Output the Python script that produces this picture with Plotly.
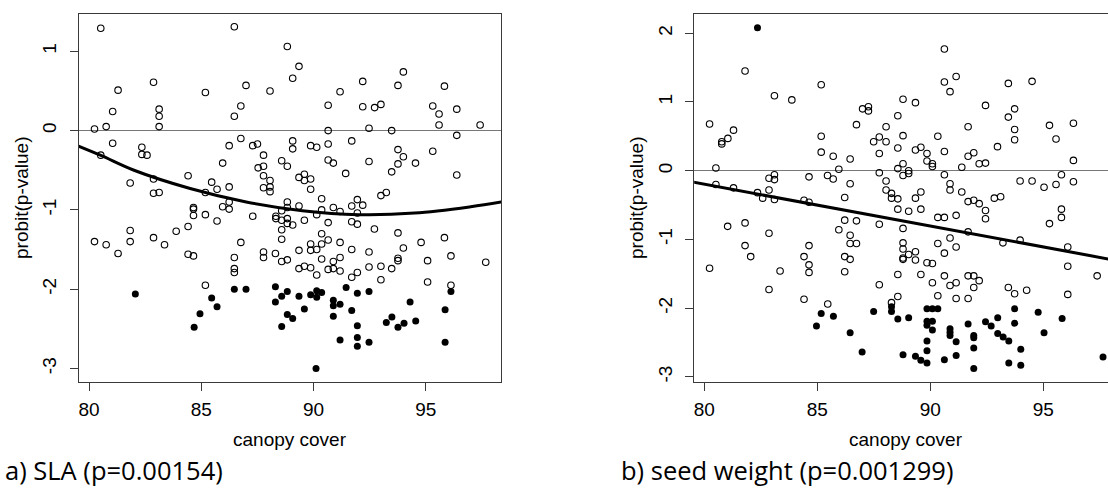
import plotly.graph_objects as go

# ---------------- Panel a) SLA ----------------
sla_open_x = [80.52, 86.47, 82.87, 81.29, 85.18, 86.99, 86.76, 86.47, 81.05, 83.12, 83.12, 83.12, 80.76, 80.24,
              81.05, 80.52, 82.35, 82.35, 82.58, 82.87, 82.87, 83.12, 81.83, 84.41, 85.18, 85.46, 85.70, 85.95,
              86.24, 86.24, 86.76,
              88.83, 89.35, 89.07, 88.06, 91.18, 92.19, 90.65, 92.19, 92.72, 93.00, 93.76, 94.00, 95.83, 95.31,
              95.59, 95.59, 96.38, 97.42, 92.47, 90.65, 93.48, 96.38, 89.07, 89.07, 89.87, 90.14, 90.65, 91.70,
              87.29, 87.50, 87.77, 88.58, 88.83, 87.53, 87.77, 87.77, 88.06, 88.06, 88.06, 87.77, 90.65, 90.88,
              92.47, 91.43, 89.35, 89.59, 89.59, 89.87, 89.87, 93.76, 94.00, 93.76, 93.48, 94.54, 95.31, 96.38,
              93.00, 93.24, 90.36,
              80.24, 80.76, 81.29, 81.83, 81.83, 82.87, 83.36, 83.88, 84.41, 84.41, 84.65, 84.65, 84.65, 84.65,
              85.18, 85.70, 85.95, 86.24, 86.24, 86.47, 86.47, 86.47, 86.76, 85.18,
              87.29, 88.32, 88.32, 88.58, 88.83, 88.83, 88.83, 88.58, 89.35, 89.07, 88.83, 88.58, 88.58, 89.59,
              90.14, 90.36, 90.65, 90.88, 91.18, 91.70, 91.95, 92.19, 91.95, 91.70, 91.95, 92.71, 93.76, 94.79,
              95.83, 90.36, 90.65, 89.87, 89.87, 90.14, 89.35, 88.30, 87.77, 87.77, 88.58, 88.83, 90.36, 91.18,
              91.70, 92.47, 94.00, 93.76, 93.76, 90.36, 90.88, 91.18, 89.35, 89.59, 89.87, 90.14, 90.65, 90.88,
              91.18, 91.95, 91.70, 92.47, 93.00, 93.48, 93.00, 95.08, 95.08, 96.12, 96.12, 97.67]
sla_open_y = [1.29, 1.31, 0.61, 0.51, 0.48, 0.57, 0.31, 0.18, 0.24, 0.27, 0.18, 0.05, 0.05, 0.02,
              -0.16, -0.31, -0.21, -0.30, -0.31, -0.61, -0.79, -0.78, -0.66, -0.57, -0.78, -0.65, -0.74, -0.41,
              -0.19, -0.71, -0.10,
              1.06, 0.81, 0.66, 0.50, 0.49, 0.62, 0.32, 0.30, 0.29, 0.33, 0.57, 0.74, 0.56, 0.31,
              0.21, 0.07, 0.27, 0.07, 0.03, 0.00, 0.00, -0.06, -0.13, -0.23, -0.19, -0.21, -0.17, -0.13,
              -0.19, -0.17, -0.31, -0.38, -0.45, -0.47, -0.45, -0.57, -0.63, -0.71, -0.77, -0.72, -0.37, -0.41,
              -0.39, -0.54, -0.59, -0.55, -0.63, -0.61, -0.74, -0.24, -0.33, -0.42, -0.52, -0.41, -0.26, -0.56,
              -0.82, -0.78, -0.86,
              -1.40, -1.44, -1.55, -1.26, -1.40, -1.35, -1.44, -1.27, -1.21, -1.56, -1.58, -0.97, -0.99, -1.07,
              -1.06, -1.14, -0.96, -0.99, -0.90, -1.60, -1.74, -1.79, -1.41, -1.95,
              -1.08, -1.08, -1.11, -1.13, -1.11, -0.90, -0.97, -1.01, -0.95, -1.19, -1.17, -1.25, -1.37, -1.13,
              -1.06, -1.00, -1.16, -0.97, -1.02, -0.95, -0.87, -0.94, -1.04, -1.15, -1.18, -1.24, -1.29, -1.41,
              -1.35, -1.30, -1.38, -1.43, -1.51, -1.50, -1.51, -1.55, -1.53, -1.60, -1.65, -1.63, -1.43, -1.41,
              -1.50, -1.53, -1.48, -1.61, -1.64, -1.62, -1.65, -1.60, -1.74, -1.71, -1.73, -1.82, -1.75, -1.74,
              -1.77, -1.79, -1.85, -1.72, -1.71, -1.74, -1.88, -1.64, -1.91, -1.58, -1.95, -1.66]
sla_sig_x = [82.06, 84.68, 84.94, 85.46, 85.70, 86.47, 86.99,
             88.30, 88.30, 88.58, 88.83, 89.35, 89.87, 90.14, 90.36, 90.14, 89.59, 88.83, 89.07, 88.58,
             90.88, 90.88, 91.18, 90.88, 91.45, 91.95, 92.47, 91.70, 91.95, 91.18, 91.95, 91.95, 92.47,
             90.11, 93.24, 93.49, 93.76, 94.03, 94.30, 94.55, 95.86, 96.12, 95.86]
sla_sig_y = [-2.06, -2.48, -2.31, -2.11, -2.22, -2.00, -2.00,
             -1.97, -2.16, -2.09, -2.03, -2.09, -2.07, -2.02, -2.04, -2.10, -2.25, -2.32, -2.37, -2.47,
             -2.14, -2.21, -2.19, -2.34, -1.98, -2.05, -2.03, -2.27, -2.46, -2.64, -2.61, -2.72, -2.67,
             -3.00, -2.42, -2.35, -2.48, -2.43, -2.16, -2.40, -2.26, -2.03, -2.67]
sla_fit_x = [79.3, 80.5, 82.0, 84.5, 87.0, 89.5, 92.0, 94.5, 97.0, 98.6]
sla_fit_y = [-0.17, -0.31, -0.50, -0.73, -0.90, -1.01, -1.06, -1.04, -0.96, -0.89]

# ---------------- Panel b) seed weight ----------------
seed_open_x = [81.80, 80.23, 80.51, 80.77, 80.77, 81.04, 81.29, 80.51, 81.29, 82.35, 82.58, 82.86, 82.86, 83.10,
               83.10, 83.10, 83.10, 83.87, 84.63, 84.41, 84.63, 85.17, 85.17, 85.17, 85.70, 85.95, 85.45, 85.70,
               90.62, 90.62, 91.14, 90.87, 93.45, 94.50, 88.79, 89.34, 87.00, 87.26, 87.26, 88.56, 86.73, 88.04,
               92.44, 93.45, 93.73, 93.73, 93.73, 91.67, 90.33, 88.79, 87.49, 87.74, 88.04, 87.74, 88.56, 89.34,
               89.58, 89.85, 89.85, 90.09, 90.09, 90.62, 91.67, 91.92, 91.39, 92.16, 92.44, 92.97, 95.27, 95.56,
               96.33, 96.33, 95.80, 96.33, 95.56, 95.03, 94.50, 93.97, 86.45, 86.45, 86.21, 88.56, 88.79, 89.04,
               89.04, 88.79, 87.74, 88.04, 88.04, 88.28, 88.28, 88.56, 89.34, 89.58, 90.62, 90.87, 90.87, 91.39,
               92.83, 93.11,
               80.23, 81.03, 81.80, 81.80, 82.05, 82.86, 83.35, 82.86, 84.41, 84.63, 84.63, 84.63, 84.41, 85.46,
               85.95,
               86.21, 86.73, 86.45, 86.45, 86.73, 86.21, 86.45, 86.21, 87.74, 88.56, 89.04, 89.58, 88.79, 88.79,
               88.79, 88.79, 88.79, 89.04, 89.34, 89.34, 89.85, 90.09, 90.33, 90.62, 91.14, 91.67, 91.92, 92.16,
               92.44, 92.44, 91.67, 90.87, 90.33, 91.14, 90.62, 87.74, 88.56, 88.56, 88.28, 89.58, 90.09, 90.62,
               90.87, 91.14, 90.33, 91.14, 91.67, 91.67, 91.92, 92.16, 91.92, 93.21, 93.97, 93.45, 93.73, 94.26,
               95.27, 95.80, 95.80, 96.08, 96.08, 96.08, 97.38]
seed_open_y = [1.45, 0.68, 0.04, 0.39, 0.42, 0.47, 0.59, -0.20, -0.25, -0.32, -0.40, -0.28, -0.11, -0.06,
               -0.13, -0.42, 1.09, 1.03, -0.09, -0.43, -0.46, 1.25, 0.50, 0.27, 0.21, 0.02, -0.07, -0.12,
               1.77, 1.29, 1.37, 1.15, 1.27, 1.30, 1.04, 0.99, 0.90, 0.93, 0.87, 0.80, 0.67, 0.64,
               0.95, 0.78, 0.90, 0.60, 0.45, 0.64, 0.50, 0.51, 0.42, 0.49, 0.42, 0.25, 0.33, 0.30,
               0.34, 0.25, 0.14, 0.10, 0.06, 0.28, 0.21, 0.26, 0.05, 0.10, 0.11, 0.35, 0.66, 0.46,
               0.69, 0.15, -0.06, -0.16, -0.20, -0.24, -0.15, -0.15, 0.17, -0.19, -0.39, 0.03, 0.10, 0.00,
               -0.04, -0.07, -0.03, -0.15, -0.28, -0.33, -0.40, -0.41, -0.40, -0.31, -0.06, -0.19, -0.28, -0.31,
               -0.40, -0.38,
               -1.42, -0.81, -0.76, -1.09, -1.25, -0.91, -1.46, -1.73, -1.25, -1.09, -1.37, -1.48, -1.87, -1.94,
               -0.86,
               -0.72, -0.73, -0.94, -1.06, -1.06, -1.25, -1.29, -1.47, -0.78, -0.56, -0.59, -0.56, -0.84, -1.05,
               -1.14, -1.27, -1.29, -1.22, -1.18, -1.30, -1.34, -1.35, -0.68, -0.68, -0.65, -0.45, -0.43, -0.48,
               -0.58, -0.70, -0.89, -0.98, -1.06, -1.11, -1.20, -1.66, -1.51, -1.83, -1.92, -1.51, -1.63, -1.53,
               -1.67, -1.63, -1.82, -1.86, -1.86, -1.53, -1.53, -1.60, -1.70, -1.05, -1.01, -1.70, -1.79, -1.74,
               -0.77, -0.56, -0.68, -1.11, -1.39, -1.80, -1.53]
seed_sig_x = [82.35, 84.96, 85.17, 85.71,
              86.45, 86.98, 87.49, 88.28, 88.28, 88.56, 89.04, 88.79, 89.34, 89.58, 89.85, 89.85, 90.09, 90.33,
              89.85, 90.09, 89.85, 90.09, 89.85, 89.85, 90.62, 90.87, 90.87, 90.87, 91.14, 91.14, 91.67, 91.92,
              91.92, 91.92, 91.92, 92.44, 92.69, 92.98, 92.98, 93.22, 93.47, 93.73, 93.73, 93.47, 94.00, 94.00,
              94.77, 95.03, 95.83, 97.64]
seed_sig_y = [2.08, -2.26, -2.08, -2.12,
              -2.36, -2.64, -2.05, -1.98, -2.05, -2.16, -2.14, -2.68, -2.70, -2.76, -2.80, -2.01, -2.01, -2.01,
              -2.19, -2.19, -2.25, -2.32, -2.48, -2.62, -2.75, -2.30, -2.35, -2.40, -2.49, -2.69, -2.23, -2.40,
              -2.43, -2.58, -2.88, -2.20, -2.26, -2.14, -2.37, -2.42, -2.48, -2.01, -2.22, -2.80, -2.60, -2.83,
              -2.06, -2.36, -2.15, -2.71]
seed_fit_x = [79.5, 98.5]
seed_fit_y = [-0.166, -1.323]

x_ticks = [80, 85, 90, 95]
sla_y_ticks = [-3, -2, -1, 0, 1]
seed_y_ticks = [-3, -2, -1, 0, 1, 2]

W, H = 1108, 501
AXFONT = dict(family="Liberation Sans, Arial, sans-serif", size=19, color="black")
CAPFONT = dict(family="Open Sans, sans-serif", size=25.5, color="black")

open_marker = dict(symbol="circle-open", size=6.5, color="black", line=dict(width=1.1, color="black"))
fill_marker = dict(symbol="circle", size=7, color="black", line=dict(width=0))

fig = go.Figure()
for xs, ys, xa, ya in [(sla_open_x, sla_open_y, "x", "y"), (seed_open_x, seed_open_y, "x2", "y2")]:
    fig.add_trace(go.Scatter(x=xs, y=ys, mode="markers", marker=open_marker, xaxis=xa, yaxis=ya))
for xs, ys, xa, ya in [(sla_sig_x, sla_sig_y, "x", "y"), (seed_sig_x, seed_sig_y, "x2", "y2")]:
    fig.add_trace(go.Scatter(x=xs, y=ys, mode="markers", marker=fill_marker, xaxis=xa, yaxis=ya))
fig.add_trace(go.Scatter(x=sla_fit_x, y=sla_fit_y, mode="lines", line=dict(color="black", width=3, shape="spline"),
                         xaxis="x", yaxis="y"))
fig.add_trace(go.Scatter(x=seed_fit_x, y=seed_fit_y, mode="lines", line=dict(color="black", width=3),
                         xaxis="x2", yaxis="y2"))

ax = dict(showline=True, linecolor="#3a3a3a", linewidth=1.2, ticks="outside", ticklen=8, tickwidth=1.2,
          tickcolor="#3a3a3a", showgrid=False, tickfont=AXFONT)

fig.update_layout(
    width=W, height=H, margin=dict(l=0, r=0, t=0, b=0),
    paper_bgcolor="white", plot_bgcolor="white", showlegend=False,
    xaxis=dict(domain=[79 / W, 501 / W], range=[79.55, 98.35], tickvals=x_ticks, anchor="y",
               mirror=True, zeroline=False, ticklabelstandoff=2, **ax),
    yaxis=dict(domain=[1 - 382 / H, 1 - 14 / H], range=[-3.17, 1.47], tickvals=sla_y_ticks,
               ticktext=[str(v) for v in sla_y_ticks], tickangle=-90, anchor="x", mirror=True,
               ticklabelstandoff=6,
               zeroline=True, zerolinecolor="#777777", zerolinewidth=1.3, **ax),
    xaxis2=dict(domain=[694.2 / W, 1], range=[79.55, 97.86], tickvals=x_ticks, anchor="y2",
                mirror=True, zeroline=False, ticklabelstandoff=2, **ax),
    yaxis2=dict(domain=[1 - 382 / H, 1 - 14 / H], range=[-3.075, 2.28], tickvals=seed_y_ticks,
                ticktext=[str(v) for v in seed_y_ticks], tickangle=-90, anchor="x2", mirror=False,
                ticklabelstandoff=6,
                zeroline=True, zerolinecolor="#777777", zerolinewidth=1.3, **ax),
)

ann = [
    dict(text="canopy cover", x=290 / W, y=1 - 439 / H, font=AXFONT),
    dict(text="canopy cover", x=906 / W, y=1 - 439 / H, font=AXFONT),
    dict(text="probit(p-value)", x=21 / W, y=1 - 198 / H, font=AXFONT, textangle=-90),
    dict(text="probit(p-value)", x=636 / W, y=1 - 198 / H, font=AXFONT, textangle=-90),
    dict(text="a) SLA (p=0.00154)", x=3 / W, y=1 - 470 / H, font=CAPFONT, xanchor="left"),
    dict(text="b) seed weight (p=0.001299)", x=619 / W, y=1 - 470 / H, font=CAPFONT, xanchor="left"),
]
for a in ann:
    a.setdefault("xanchor", "center")
    fig.add_annotation(xref="paper", yref="paper", yanchor="middle", showarrow=False, **a)

fig.write_html("out.html")
